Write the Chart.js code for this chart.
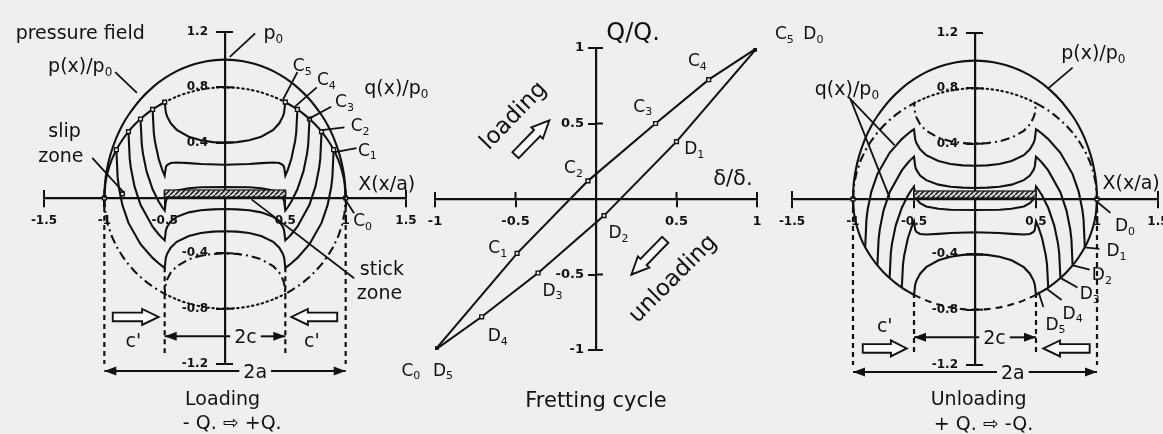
<!DOCTYPE html>
<html><head><meta charset="utf-8"><title>Fretting cycle: loading / unloading shear distributions</title>
<script src="https://cdn.jsdelivr.net/npm/chart.js@4.4.1/dist/chart.umd.min.js"></script>
<style>
html,body{margin:0;padding:0;background:#efefed;overflow:hidden}
#fig{position:relative;width:1163px;height:434px;overflow:hidden;background:#efefed}
#fig canvas{position:absolute;left:0;top:0}
</style></head><body>
<div id="fig">
<canvas id="loadChart" width="1300" height="434"></canvas>
<canvas id="cycleChart" width="1300" height="434"></canvas>
<canvas id="unloadChart" width="1300" height="434"></canvas>
</div>
<script>
// ---------------- tick labels ----------------
const sideXTicks = [-1.5, -1, -0.5, 0.5, 1, 1.5];
const sideYTicks = [-1.2, -0.8, -0.4, 0.4, 0.8, 1.2];
const cycleXTicks = [-1, -0.5, 0.5, 1];
const cycleYTicks = [-1, -0.5, 0.5, 1];
const stickZone = [-0.5, 0.5];

// ---------------- pressure field p(x)/p0 (both side panels) ----------------
const pressureCurve = [[-1,0],[-0.995,0.1],[-0.98,0.199],[-0.95,0.312],[-0.9,0.436],[-0.85,0.527],[-0.8,0.6],[-0.7,0.714],[-0.6,0.8],[-0.5,0.866],[-0.4,0.917],[-0.3,0.954],[-0.2,0.98],[-0.1,0.995],[0,1],[0.1,0.995],[0.2,0.98],[0.3,0.954],[0.4,0.917],[0.5,0.866],[0.6,0.8],[0.7,0.714],[0.8,0.6],[0.85,0.527],[0.9,0.436],[0.95,0.312],[0.98,0.199],[0.995,0.1],[1,0]];

// ---------------- Loading panel: q(x)/p0 ----------------
const loadSlipLeft = [[-1,0],[-0.99,0.113],[-0.97,0.194],[-0.94,0.273],[-0.9,0.349],[-0.85,0.421],[-0.8,0.48],[-0.75,0.529],[-0.7,0.571],[-0.65,0.608],[-0.6,0.64],[-0.55,0.668],[-0.5,0.693]];
const loadSlipRight = [[0.5,0.693],[0.55,0.668],[0.6,0.64],[0.65,0.608],[0.7,0.571],[0.75,0.529],[0.8,0.48],[0.85,0.421],[0.9,0.349],[0.94,0.273],[0.97,0.194],[0.99,0.113],[1,0]];
const loadFullSlipTop = [[-0.5,0.693],[-0.4,0.733],[-0.3,0.763],[-0.2,0.784],[-0.1,0.796],[0,0.8],[0.1,0.796],[0.2,0.784],[0.3,0.763],[0.4,0.733],[0.5,0.693]];
const loadFullSlipBottom = [[-0.5,-0.693],[-0.4,-0.733],[-0.3,-0.763],[-0.2,-0.784],[-0.1,-0.796],[0,-0.8],[0.1,-0.796],[0.2,-0.784],[0.3,-0.763],[0.4,-0.733],[0.5,-0.693]];
const loadC0 = [[-1,0],[-0.99,-0.113],[-0.97,-0.194],[-0.94,-0.273],[-0.9,-0.349],[-0.85,-0.421],[-0.8,-0.48],[-0.75,-0.529],[-0.7,-0.571],[-0.65,-0.608],[-0.6,-0.64],[-0.55,-0.668],[-0.5,-0.693],[-0.49,-0.617],[-0.48,-0.59],[-0.45,-0.54],[-0.4,-0.493],[-0.3,-0.443],[-0.2,-0.417],[-0.1,-0.404],[0,-0.4],[0.1,-0.404],[0.2,-0.417],[0.3,-0.443],[0.4,-0.493],[0.45,-0.54],[0.48,-0.59],[0.49,-0.617],[0.5,-0.693],[0.55,-0.668],[0.6,-0.64],[0.65,-0.608],[0.7,-0.571],[0.75,-0.529],[0.8,-0.48],[0.85,-0.421],[0.9,-0.349],[0.94,-0.273],[0.97,-0.194],[0.99,-0.113],[1,0]];
const loadC1 = [[-0.9,0.349],[-0.89,0.151],[-0.88,0.078],[-0.85,-0.052],[-0.8,-0.18],[-0.7,-0.334],[-0.6,-0.433],[-0.55,-0.472],[-0.52,-0.492],[-0.5,-0.504],[-0.49,-0.431],[-0.48,-0.404],[-0.45,-0.359],[-0.4,-0.317],[-0.3,-0.275],[-0.2,-0.253],[-0.1,-0.243],[0,-0.24],[0.1,-0.243],[0.2,-0.253],[0.3,-0.275],[0.4,-0.317],[0.45,-0.359],[0.48,-0.404],[0.49,-0.431],[0.5,-0.504],[0.52,-0.492],[0.55,-0.472],[0.6,-0.433],[0.7,-0.334],[0.8,-0.18],[0.85,-0.052],[0.88,0.078],[0.89,0.151],[0.9,0.349]];
const loadC2 = [[-0.8,0.48],[-0.79,0.288],[-0.78,0.217],[-0.75,0.084],[-0.7,-0.049],[-0.6,-0.207],[-0.55,-0.262],[-0.52,-0.29],[-0.5,-0.306],[-0.49,-0.235],[-0.48,-0.21],[-0.45,-0.17],[-0.4,-0.136],[-0.3,-0.104],[-0.2,-0.088],[-0.1,-0.082],[0,-0.08],[0.1,-0.082],[0.2,-0.088],[0.3,-0.104],[0.4,-0.136],[0.45,-0.17],[0.48,-0.21],[0.49,-0.235],[0.5,-0.306],[0.52,-0.29],[0.55,-0.262],[0.6,-0.207],[0.7,-0.049],[0.75,0.084],[0.78,0.217],[0.79,0.288],[0.8,0.48]];
const loadC3 = [[-0.7,0.571],[-0.69,0.39],[-0.68,0.321],[-0.65,0.192],[-0.6,0.063],[-0.55,-0.025],[-0.52,-0.067],[-0.5,-0.091],[-0.49,-0.023],[-0.48,-0.001],[-0.45,0.03],[-0.4,0.054],[-0.3,0.071],[-0.2,0.078],[0,0.08],[0.2,0.078],[0.3,0.071],[0.4,0.054],[0.45,0.03],[0.48,-0.001],[0.49,-0.023],[0.5,-0.091],[0.52,-0.067],[0.55,-0.025],[0.6,0.063],[0.65,0.192],[0.68,0.321],[0.69,0.39],[0.7,0.571]];
const loadC4 = [[-0.6,0.64],[-0.59,0.471],[-0.58,0.406],[-0.55,0.284],[-0.52,0.204],[-0.5,0.162],[-0.49,0.223],[-0.48,0.238],[-0.45,0.253],[-0.4,0.257],[-0.3,0.252],[-0.2,0.246],[0,0.24],[0.2,0.246],[0.3,0.252],[0.4,0.257],[0.45,0.253],[0.48,0.238],[0.49,0.223],[0.5,0.162],[0.52,0.204],[0.55,0.284],[0.58,0.406],[0.59,0.471],[0.6,0.64]];
const loadC5 = [[-0.5,0.693],[-0.49,0.617],[-0.48,0.59],[-0.45,0.54],[-0.4,0.493],[-0.3,0.443],[-0.2,0.417],[-0.1,0.404],[0,0.4],[0.1,0.404],[0.2,0.417],[0.3,0.443],[0.4,0.493],[0.45,0.54],[0.48,0.59],[0.49,0.617],[0.5,0.693]];
const loadMarkers = [[-1,0],[-0.9,0.349],[-0.8,0.48],[-0.7,0.571],[-0.6,0.64],[-0.5,0.693],[0.5,0.693],[0.6,0.64],[0.7,0.571],[0.8,0.48],[0.9,0.349],[1,0],[-0.85,0.03]];
const loadGuides = [[-1,0,-1.33],[1,0,-1.33],[-0.5,-0.5,-1.12],[0.5,-0.5,-1.12]];

// ---------------- Fretting cycle: Q/Q* vs delta/delta* ----------------
const cycleLoading = [[-1,-1],[-0.49,-0.36],[-0.05,0.12],[0.37,0.5],[0.7,0.79],[1,1]];
const cycleUnloading = [[1,1],[0.5,0.38],[0.05,-0.11],[-0.36,-0.49],[-0.71,-0.78],[-1,-1]];

// ---------------- Unloading panel: q(x)/p0 ----------------
const unloadSlipLeft = [[-1,0],[-0.99,-0.113],[-0.97,-0.194],[-0.94,-0.273],[-0.9,-0.349],[-0.85,-0.421],[-0.8,-0.48],[-0.75,-0.529],[-0.7,-0.571],[-0.65,-0.608],[-0.6,-0.64],[-0.55,-0.668],[-0.5,-0.693]];
const unloadSlipRight = [[0.5,-0.693],[0.55,-0.668],[0.6,-0.64],[0.65,-0.608],[0.7,-0.571],[0.75,-0.529],[0.8,-0.48],[0.85,-0.421],[0.9,-0.349],[0.94,-0.273],[0.97,-0.194],[0.99,-0.113],[1,0]];
const unloadFullSlipTop = [[-0.5,0.693],[-0.4,0.733],[-0.3,0.763],[-0.2,0.784],[-0.1,0.796],[0,0.8],[0.1,0.796],[0.2,0.784],[0.3,0.763],[0.4,0.733],[0.5,0.693]];
const unloadFullSlipBottom = [[-0.5,-0.693],[-0.4,-0.733],[-0.3,-0.763],[-0.2,-0.784],[-0.1,-0.796],[0,-0.8],[0.1,-0.796],[0.2,-0.784],[0.3,-0.763],[0.4,-0.733],[0.5,-0.693]];
const unloadD0 = [[-1,0],[-0.99,0.113],[-0.97,0.194],[-0.94,0.273],[-0.9,0.349],[-0.85,0.421],[-0.8,0.48],[-0.75,0.529],[-0.7,0.571],[-0.65,0.608],[-0.6,0.64],[-0.55,0.668],[-0.5,0.693],[-0.49,0.617],[-0.48,0.59],[-0.45,0.54],[-0.4,0.493],[-0.3,0.443],[-0.2,0.417],[-0.1,0.404],[0,0.4],[0.1,0.404],[0.2,0.417],[0.3,0.443],[0.4,0.493],[0.45,0.54],[0.48,0.59],[0.49,0.617],[0.5,0.693],[0.55,0.668],[0.6,0.64],[0.65,0.608],[0.7,0.571],[0.75,0.529],[0.8,0.48],[0.85,0.421],[0.9,0.349],[0.94,0.273],[0.97,0.194],[0.99,0.113],[1,0]];
const unloadD1 = [[-0.9,-0.349],[-0.89,-0.151],[-0.88,-0.078],[-0.85,0.052],[-0.8,0.18],[-0.7,0.334],[-0.6,0.433],[-0.55,0.472],[-0.52,0.492],[-0.5,0.504],[-0.49,0.431],[-0.48,0.404],[-0.45,0.359],[-0.4,0.317],[-0.3,0.275],[-0.2,0.253],[-0.1,0.243],[0,0.24],[0.1,0.243],[0.2,0.253],[0.3,0.275],[0.4,0.317],[0.45,0.359],[0.48,0.404],[0.49,0.431],[0.5,0.504],[0.52,0.492],[0.55,0.472],[0.6,0.433],[0.7,0.334],[0.8,0.18],[0.85,0.052],[0.88,-0.078],[0.89,-0.151],[0.9,-0.349]];
const unloadD2 = [[-0.8,-0.48],[-0.79,-0.288],[-0.78,-0.217],[-0.75,-0.084],[-0.7,0.049],[-0.6,0.207],[-0.55,0.262],[-0.52,0.29],[-0.5,0.306],[-0.49,0.235],[-0.48,0.21],[-0.45,0.17],[-0.4,0.136],[-0.3,0.104],[-0.2,0.088],[-0.1,0.082],[0,0.08],[0.1,0.082],[0.2,0.088],[0.3,0.104],[0.4,0.136],[0.45,0.17],[0.48,0.21],[0.49,0.235],[0.5,0.306],[0.52,0.29],[0.55,0.262],[0.6,0.207],[0.7,0.049],[0.75,-0.084],[0.78,-0.217],[0.79,-0.288],[0.8,-0.48]];
const unloadD3 = [[-0.7,-0.571],[-0.69,-0.39],[-0.68,-0.321],[-0.65,-0.192],[-0.6,-0.063],[-0.55,0.025],[-0.52,0.067],[-0.5,0.091],[-0.49,0.023],[-0.48,0.001],[-0.45,-0.03],[-0.4,-0.054],[-0.3,-0.071],[-0.2,-0.078],[0,-0.08],[0.2,-0.078],[0.3,-0.071],[0.4,-0.054],[0.45,-0.03],[0.48,0.001],[0.49,0.023],[0.5,0.091],[0.52,0.067],[0.55,0.025],[0.6,-0.063],[0.65,-0.192],[0.68,-0.321],[0.69,-0.39],[0.7,-0.571]];
const unloadD4 = [[-0.6,-0.64],[-0.59,-0.471],[-0.58,-0.406],[-0.55,-0.284],[-0.52,-0.204],[-0.5,-0.162],[-0.49,-0.223],[-0.48,-0.238],[-0.45,-0.253],[-0.4,-0.257],[-0.3,-0.252],[-0.2,-0.246],[0,-0.24],[0.2,-0.246],[0.3,-0.252],[0.4,-0.257],[0.45,-0.253],[0.48,-0.238],[0.49,-0.223],[0.5,-0.162],[0.52,-0.204],[0.55,-0.284],[0.58,-0.406],[0.59,-0.471],[0.6,-0.64]];
const unloadD5 = [[-0.5,-0.693],[-0.49,-0.617],[-0.48,-0.59],[-0.45,-0.54],[-0.4,-0.493],[-0.3,-0.443],[-0.2,-0.417],[-0.1,-0.404],[0,-0.4],[0.1,-0.404],[0.2,-0.417],[0.3,-0.443],[0.4,-0.493],[0.45,-0.54],[0.48,-0.59],[0.49,-0.617],[0.5,-0.693]];
const unloadMarkers = [[-1,0],[1,0]];
const unloadGuides = [[-1,0,-1.33],[1,0,-1.33],[-0.5,-0.68,-1.12],[0.5,-0.68,-1.12]];

// ---------------- styling ----------------
const FONT = '"DejaVu Sans", "Liberation Sans", sans-serif';
const INK = '#111111';
const PAPER = '#efefed';
const DOT = [1.5, 3.5];
const DASHDOT = [9, 4, 2, 4];
const DASH = [7, 5];
const LW = 2.1;

const pts = a => a.map(([x, y]) => ({x, y}));
function curve(data, extra) {
  return Object.assign({data: pts(data), showLine: true, borderColor: INK, borderWidth: LW,
    pointRadius: 0, tension: 0, fill: false, borderCapStyle: 'butt'}, extra || {});
}
function guideSets(g) {
  return g.map(([x, y1, y2]) => curve([[x, y1], [x, y2]], {borderDash: [5, 4], borderWidth: 2.2}));
}
function markerSet(data, r) {
  return {data: pts(data), showLine: false, pointStyle: 'rect', pointRadius: r || 2.7,
    pointBackgroundColor: PAPER, pointBorderColor: INK, pointBorderWidth: 1.4};
}

// ---------------- annotation drawing ----------------
function richText(ctx, str, px, py, size, rot, align) {
  const parts = []; let buf = '';
  for (let k = 0; k < str.length; k++) {
    if (str[k] === '_' && k + 1 < str.length) {
      if (buf) { parts.push({t: buf, sub: false}); buf = ''; }
      parts.push({t: str[k + 1], sub: true}); k++;
    } else buf += str[k];
  }
  if (buf) parts.push({t: buf, sub: false});
  const subSize = Math.round(size * 0.62);
  let w = 0;
  parts.forEach(p => { ctx.font = (p.sub ? subSize : size) + 'px ' + FONT; p.w = ctx.measureText(p.t).width; w += p.w; });
  ctx.save();
  ctx.translate(px, py);
  if (rot) ctx.rotate(rot * Math.PI / 180);
  let x = align === 'left' ? 0 : align === 'right' ? -w : -w / 2;
  const base = size * 0.36;
  ctx.textBaseline = 'alphabetic'; ctx.textAlign = 'left'; ctx.fillStyle = INK;
  parts.forEach(p => {
    ctx.font = (p.sub ? subSize : size) + 'px ' + FONT;
    ctx.fillText(p.t, x, p.sub ? base + size * 0.22 : base);
    x += p.w;
  });
  ctx.restore();
  return w;
}
function hollowArrow(ctx, x1, y1, x2, y2, h) {
  const len = Math.hypot(x2 - x1, y2 - y1), ang = Math.atan2(y2 - y1, x2 - x1);
  ctx.save();
  ctx.translate(x1, y1); ctx.rotate(ang);
  const hl = len * 0.36, sh = h * 0.27, hh = h / 2;
  ctx.beginPath();
  ctx.moveTo(0, -sh); ctx.lineTo(len - hl, -sh); ctx.lineTo(len - hl, -hh); ctx.lineTo(len, 0);
  ctx.lineTo(len - hl, hh); ctx.lineTo(len - hl, sh); ctx.lineTo(0, sh); ctx.closePath();
  ctx.fillStyle = '#fbfbfa'; ctx.fill();
  ctx.lineWidth = 1.9; ctx.strokeStyle = INK; ctx.lineJoin = 'miter'; ctx.stroke();
  ctx.restore();
}
function makeNotes(spec) {
  return {
    id: 'notes_' + spec.name,
    afterDraw(chart) {
      const ctx = chart.ctx, xs = chart.scales.x, ys = chart.scales.y;
      const X = v => xs.getPixelForValue(v), Y = v => ys.getPixelForValue(v);
      ctx.save();
      ctx.strokeStyle = INK; ctx.fillStyle = INK;
      const seg = (a, b, c, d, w) => { ctx.lineWidth = w || 1.7; ctx.beginPath(); ctx.moveTo(a, b); ctx.lineTo(c, d); ctx.stroke(); };
      // tick marks on the opposite side of each axis
      if (spec.crossTick) {
        const x0 = X(0), y0 = Y(0), L = spec.crossTick;
        xs.ticks.forEach(t => seg(X(t.value), y0, X(t.value), y0 - L, 2));
        ys.ticks.forEach(t => seg(x0, Y(t.value), x0 + L, Y(t.value), 2));
      }
      // hatched stick zone
      if (spec.band) {
        const x1 = X(spec.band[0]), x2 = X(spec.band[1]), y0 = Y(0), h = 7;
        const tile = document.createElement('canvas'); tile.width = 5; tile.height = 5;
        const g = tile.getContext('2d');
        g.fillStyle = '#d2d2d0'; g.fillRect(0, 0, 5, 5);
        g.strokeStyle = INK; g.lineWidth = 1.4;
        g.beginPath(); g.moveTo(-1, 6); g.lineTo(6, -1); g.stroke();
        ctx.fillStyle = ctx.createPattern(tile, 'repeat');
        ctx.fillRect(x1, y0 - 1 - h, x2 - x1, h);
        ctx.lineWidth = 1.2; ctx.strokeStyle = INK; ctx.strokeRect(x1, y0 - 1 - h, x2 - x1, h);
        ctx.fillStyle = INK;
      }
      // leader lines
      (spec.leaders || []).forEach(([a, b, c, d]) => seg(X(a), Y(b), X(c), Y(d), 1.8));
      // dimension arrows
      (spec.dims || []).forEach(dm => {
        const x1 = X(dm.x1), x2 = X(dm.x2), y = Y(dm.y), lx = X(dm.lx);
        ctx.font = '19px ' + FONT;
        const gap = ctx.measureText(dm.label).width / 2 + 4;
        seg(x1, y, lx - gap, y, 2); seg(lx + gap, y, x2, y, 2);
        [[x1, -1], [x2, 1]].forEach(([x, dir]) => {
          ctx.beginPath(); ctx.moveTo(x, y); ctx.lineTo(x - dir * 12, y - 4.5); ctx.lineTo(x - dir * 12, y + 4.5); ctx.closePath(); ctx.fill();
        });
        richText(ctx, dm.label, lx, y, 19);
      });
      // hollow arrows
      (spec.hollow || []).forEach(([a, b, c, d]) => hollowArrow(ctx, X(a), Y(b), X(c), Y(d), 16));
      // texts
      (spec.texts || []).forEach(t => richText(ctx, t.t, X(t.x), Y(t.y), t.s || 19, t.r || 0, t.a));
      ctx.restore();
    }
  };
}

function axisOpts(range, ticks, fontSize, tl, pad) {
  return {
    type: 'linear', position: 'center', min: range[0], max: range[1],
    afterBuildTicks: s => { s.ticks = ticks.map(v => ({value: v})); },
    ticks: {autoSkip: false, maxRotation: 0, minRotation: 0, padding: pad, color: INK,
      font: {family: FONT, size: fontSize, weight: 'bold'}, callback: v => String(v)},
    grid: {display: true, drawOnChartArea: false, drawTicks: true, tickLength: tl, color: INK, lineWidth: 2},
    border: {display: true, color: INK, width: 2.2}
  };
}
function baseConfig(datasets, xr, yr, xt, yt, fontSize, notes, tl, xpad, ypad) {
  return {
    type: 'scatter',
    data: {datasets},
    options: {
      responsive: false, animation: false, events: [],
      plugins: {legend: {display: false}, tooltip: {enabled: false}},
      scales: {x: axisOpts(xr, xt, fontSize, tl, xpad), y: axisOpts(yr, yt, fontSize, tl, ypad)}
    },
    plugins: [makeNotes(notes)]
  };
}
function placeChart(id, config, area) {
  const cv = document.getElementById(id);
  const W = cv.width, H = cv.height;
  let pad = {left: area.l, top: area.t, right: W - area.r, bottom: H - area.b};
  config.options.layout = {padding: Object.assign({}, pad), autoPadding: false};
  const chart = new Chart(cv, config);
  for (let i = 0; i < 4; i++) {
    const a = chart.chartArea;
    pad = {left: pad.left + (area.l - a.left), top: pad.top + (area.t - a.top),
           right: pad.right + (a.right - area.r), bottom: pad.bottom + (a.bottom - area.b)};
    chart.options.layout.padding = pad;
    chart.update('none');
  }
  return chart;
}

// ---------------- Loading panel ----------------
const loadNotes = {
  name: 'load', crossTick: 8, band: stickZone,
  leaders: [[-0.91,0.91,-0.73,0.76],[0.25,1.19,0.04,1.02],[-1.1,0.29,-0.84,0.04],[1.07,-0.58,0.22,-0.01],
    [0.6,0.91,0.48,0.71],[0.76,0.8,0.58,0.66],[0.88,0.66,0.69,0.57],[0.99,0.51,0.8,0.49],[1.09,0.36,0.9,0.33],[1.07,-0.11,0.98,0.01]],
  dims: [{x1:-0.5,x2:0.5,y:-1.0,label:'2c',lx:0.17},{x1:-1,x2:1,y:-1.25,label:'2a',lx:0.25}],
  hollow: [[-0.93,-0.86,-0.55,-0.86],[0.93,-0.86,0.55,-0.86]],
  texts: [
    {t:'pressure field',x:-1.2,y:1.2},{t:'p(x)/p_0',x:-1.2,y:0.96},{t:'p_0',x:0.4,y:1.2},
    {t:'slip',x:-1.33,y:0.49},{t:'zone',x:-1.36,y:0.31},{t:'stick',x:1.3,y:-0.51},{t:'zone',x:1.28,y:-0.68},
    {t:'C_5',x:0.64,y:0.96,s:17},{t:'C_4',x:0.84,y:0.86,s:17},{t:'C_3',x:0.99,y:0.7,s:17},
    {t:'C_2',x:1.12,y:0.53,s:17},{t:'C_1',x:1.18,y:0.35,s:17},{t:'C_0',x:1.14,y:-0.16,s:17},
    {t:'q(x)/p_0',x:1.42,y:0.8},{t:'X(x/a)',x:1.34,y:0.11},
    {t:"c'",x:-0.76,y:-1.03},{t:"c'",x:0.72,y:-1.03},
    {t:'Loading',x:-0.02,y:-1.45},{t:'- Q. \u21E8 +Q.',x:0.06,y:-1.62}
  ]
};
placeChart('loadChart', baseConfig([
  markerSet(loadMarkers),
  curve(pressureCurve, {tension: 0.3}),
  curve(loadSlipLeft, {tension: 0.3}),
  curve(loadSlipRight, {tension: 0.3}),
  curve(loadC1), curve(loadC2), curve(loadC3), curve(loadC4), curve(loadC5),
  curve(loadFullSlipTop, {borderDash: DOT, borderCapStyle: 'round', tension: 0.3}),
  curve(loadFullSlipBottom, {borderDash: DOT, borderCapStyle: 'round', tension: 0.3}),
  curve(loadC0, {borderDash: DASHDOT}),
  ...guideSets(loadGuides)
], [-1.5, 1.5], [-1.2, 1.2], sideXTicks, sideYTicks, 12, loadNotes, 8, 8, 9), {l: 44, r: 406, t: 32, b: 364});

// ---------------- Fretting cycle panel ----------------
const cycleNotes = {
  name: 'cycle', crossTick: 7,
  hollow: [[-0.5,0.29,-0.29,0.52],[0.43,-0.27,0.22,-0.5]],
  texts: [
    {t:'Q/Q.',x:0.23,y:1.11,s:24},{t:'C_5',x:1.17,y:1.1,s:17},{t:'D_0',x:1.35,y:1.1,s:17},
    {t:'C_4',x:0.63,y:0.92,s:17},{t:'C_3',x:0.29,y:0.62,s:17},{t:'C_2',x:-0.14,y:0.21,s:17},{t:'C_1',x:-0.61,y:-0.32,s:17},
    {t:'D_1',x:0.61,y:0.34,s:17},{t:'D_2',x:0.14,y:-0.22,s:17},{t:'D_3',x:-0.27,y:-0.6,s:17},{t:'D_4',x:-0.61,y:-0.9,s:17},
    {t:'C_0',x:-1.15,y:-1.13,s:17},{t:'D_5',x:-0.95,y:-1.13,s:17},
    {t:'\u03B4/\u03B4.',x:0.85,y:0.14,s:21},
    {t:'loading',x:-0.52,y:0.56,s:23,r:-46},{t:'unloading',x:0.47,y:-0.52,s:23,r:-45},
    {t:'Fretting cycle',x:0,y:-1.33,s:21}
  ]
};
placeChart('cycleChart', baseConfig([
  curve(cycleLoading, {pointStyle: 'rect', pointRadius: [4,2.7,2.7,2.7,2.7,4],
    pointBackgroundColor: [INK,PAPER,PAPER,PAPER,PAPER,INK], pointBorderColor: INK, pointBorderWidth: 1.4}),
  curve(cycleUnloading, {pointStyle: 'rect', pointRadius: [4,2.7,2.7,2.7,2.7,4],
    pointBackgroundColor: [INK,PAPER,PAPER,PAPER,PAPER,INK], pointBorderColor: INK, pointBorderWidth: 1.4})
], [-1, 1], [-1, 1], cycleXTicks, cycleYTicks, 13, cycleNotes, 7, 8, 5), {l: 435, r: 757, t: 48, b: 350});

// ---------------- Unloading panel ----------------
const unloadNotes = {
  name: 'unload', crossTick: 8, band: stickZone,
  leaders: [[0.8,0.95,0.6,0.8],[-1.04,0.74,-0.66,0.39],[-1.02,0.72,-0.7,0.01],
    [1.11,-0.1,1.0,-0.02],[1.02,-0.36,0.9,-0.35],[0.94,-0.51,0.8,-0.48],[0.84,-0.64,0.7,-0.57],[0.71,-0.73,0.59,-0.65],[0.56,-0.78,0.52,-0.67]],
  dims: [{x1:-0.5,x2:0.5,y:-1.0,label:'2c',lx:0.16},{x1:-1,x2:1,y:-1.25,label:'2a',lx:0.31}],
  hollow: [[-0.92,-1.08,-0.56,-1.08],[0.94,-1.08,0.56,-1.08]],
  texts: [
    {t:'q(x)/p_0',x:-1.05,y:0.8},{t:'p(x)/p_0',x:0.97,y:1.06},{t:'X(x/a)',x:1.28,y:0.12},
    {t:'D_0',x:1.23,y:-0.19,s:17},{t:'D_1',x:1.16,y:-0.37,s:17},{t:'D_2',x:1.04,y:-0.54,s:17},
    {t:'D_3',x:0.94,y:-0.68,s:17},{t:'D_4',x:0.8,y:-0.82,s:17},{t:'D_5',x:0.66,y:-0.9,s:17},
    {t:"c'",x:-0.74,y:-0.91},
    {t:'Unloading',x:0.03,y:-1.44},{t:'+ Q. \u21E8 -Q.',x:0.07,y:-1.62}
  ]
};
placeChart('unloadChart', baseConfig([
  markerSet(unloadMarkers),
  curve(pressureCurve, {tension: 0.3}),
  curve(unloadSlipLeft, {tension: 0.3}),
  curve(unloadSlipRight, {tension: 0.3}),
  curve(unloadD1), curve(unloadD2), curve(unloadD3), curve(unloadD4), curve(unloadD5),
  curve(unloadFullSlipTop, {borderDash: DOT, borderCapStyle: 'round', tension: 0.3}),
  curve(unloadFullSlipBottom, {borderDash: DASH, tension: 0.3}),
  curve(unloadD0, {borderDash: DASHDOT}),
  ...guideSets(unloadGuides)
], [-1.5, 1.5], [-1.2, 1.2], sideXTicks, sideYTicks, 12, unloadNotes, 8, 8, 9), {l: 792, r: 1158, t: 33, b: 365});
</script>
</body></html>
